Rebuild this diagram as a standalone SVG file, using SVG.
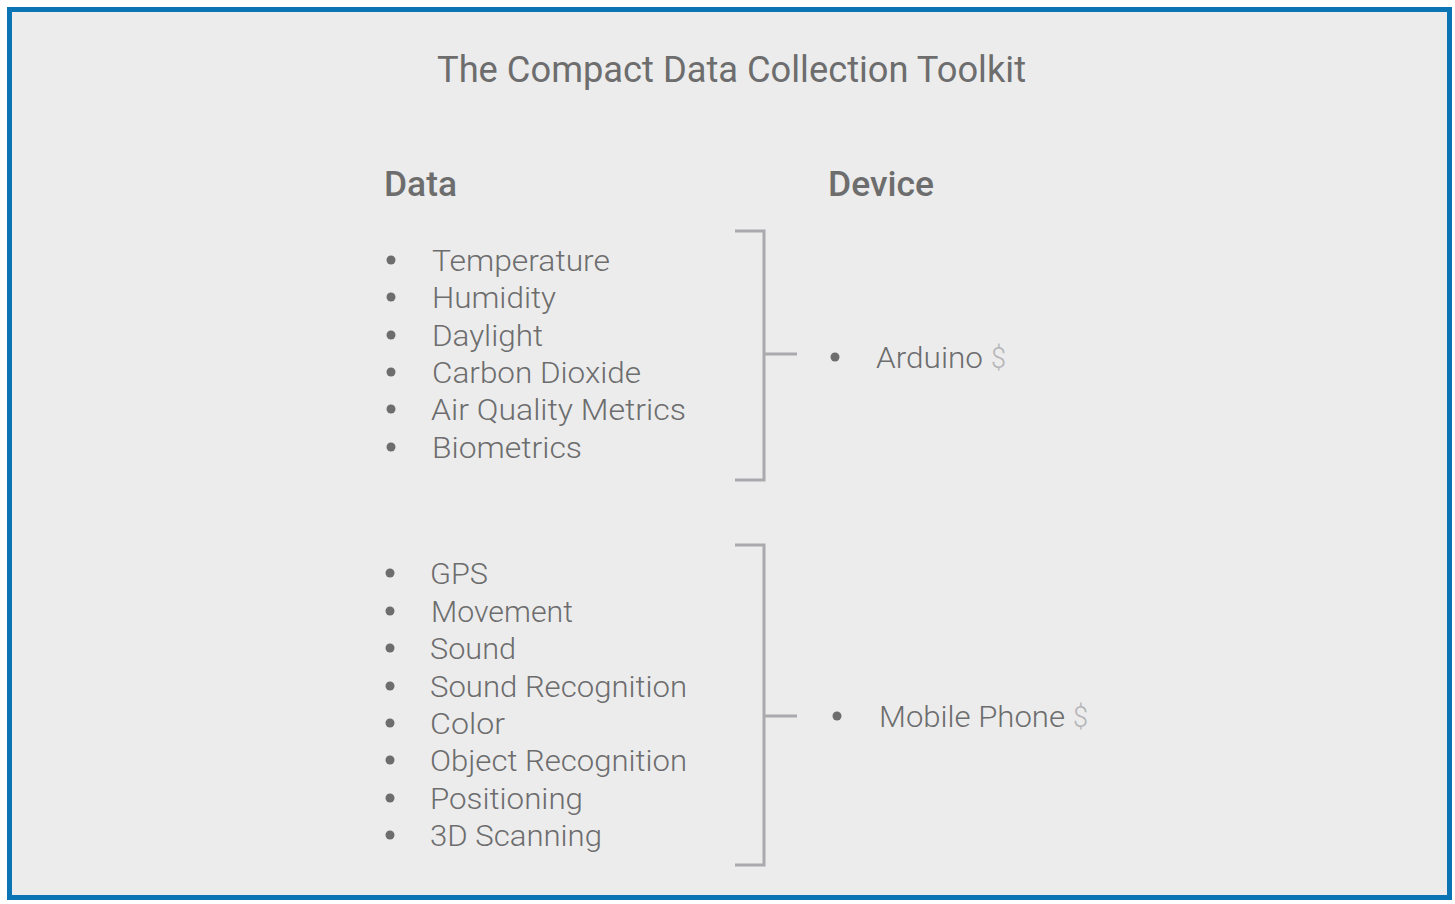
<svg xmlns="http://www.w3.org/2000/svg" width="1455" height="904" viewBox="0 0 1455 904">
<style>
text{font-family:Roboto,"Liberation Sans",sans-serif;fill:#6d6d6e}
.t{font-size:37px;font-weight:400}
.h{font-size:35px;font-weight:500}
.i{font-size:30px;font-weight:300}
.d{fill:#b4b4b6}
.b{fill:#6d6d6e}
.br{fill:none;stroke:#aaaaae;stroke-width:3}
</style>
<rect x="9.5" y="9.5" width="1440" height="888" fill="#ececec" stroke="#0a74b5" stroke-width="5"/>
<text class="t" x="437" y="82" textLength="589" lengthAdjust="spacingAndGlyphs">The Compact Data Collection Toolkit</text>
<g id="header-data"><text class="h" x="384" y="196" textLength="73" lengthAdjust="spacingAndGlyphs">Data</text></g>
<g id="header-device"><text class="h" x="828" y="196" textLength="106" lengthAdjust="spacingAndGlyphs">Device</text></g>
<g id="group1">
<circle class="b" cx="391" cy="260" r="4.5"/><text class="i" x="432" y="271" textLength="178" lengthAdjust="spacingAndGlyphs">Temperature</text>
<circle class="b" cx="391" cy="297" r="4.5"/><text class="i" x="432" y="308" textLength="124" lengthAdjust="spacingAndGlyphs">Humidity</text>
<circle class="b" cx="391" cy="335" r="4.5"/><text class="i" x="432" y="346" textLength="111" lengthAdjust="spacingAndGlyphs">Daylight</text>
<circle class="b" cx="391" cy="372" r="4.5"/><text class="i" x="432" y="383" textLength="209" lengthAdjust="spacingAndGlyphs">Carbon Dioxide</text>
<circle class="b" cx="391" cy="409" r="4.5"/><text class="i" x="431" y="420" textLength="255" lengthAdjust="spacingAndGlyphs">Air Quality Metrics</text>
<circle class="b" cx="391" cy="447" r="4.5"/><text class="i" x="432" y="458" textLength="150" lengthAdjust="spacingAndGlyphs">Biometrics</text>
</g>
<g id="group2">
<circle class="b" cx="390" cy="573" r="4.5"/><text class="i" x="430" y="584" textLength="58" lengthAdjust="spacingAndGlyphs">GPS</text>
<circle class="b" cx="390" cy="611" r="4.5"/><text class="i" x="431" y="622" textLength="142" lengthAdjust="spacingAndGlyphs">Movement</text>
<circle class="b" cx="390" cy="648" r="4.5"/><text class="i" x="430" y="659" textLength="86" lengthAdjust="spacingAndGlyphs">Sound</text>
<circle class="b" cx="390" cy="686" r="4.5"/><text class="i" x="430" y="697" textLength="257" lengthAdjust="spacingAndGlyphs">Sound Recognition</text>
<circle class="b" cx="390" cy="723" r="4.5"/><text class="i" x="430" y="734" textLength="75" lengthAdjust="spacingAndGlyphs">Color</text>
<circle class="b" cx="390" cy="760" r="4.5"/><text class="i" x="430" y="771" textLength="257" lengthAdjust="spacingAndGlyphs">Object Recognition</text>
<circle class="b" cx="390" cy="798" r="4.5"/><text class="i" x="430" y="809" textLength="153" lengthAdjust="spacingAndGlyphs">Positioning</text>
<circle class="b" cx="390" cy="835" r="4.5"/><text class="i" x="430" y="846" textLength="172" lengthAdjust="spacingAndGlyphs">3D Scanning</text>
</g>
<g id="arduino">
<circle class="b" cx="835" cy="357" r="4.5"/><text class="i" x="876" y="368" textLength="107" lengthAdjust="spacingAndGlyphs">Arduino</text><text class="i d" x="991" y="368" textLength="15" lengthAdjust="spacingAndGlyphs">$</text>
</g>
<g id="mobile">
<circle class="b" cx="837" cy="716" r="4.5"/><text class="i" x="879" y="727" textLength="186" lengthAdjust="spacingAndGlyphs">Mobile Phone</text><text class="i d" x="1073" y="727" textLength="15" lengthAdjust="spacingAndGlyphs">$</text>
</g>
<g id="connectors">
<path class="br" d="M735 231H764V480H735M764 354H797"/>
<path class="br" d="M735 545H764V865H735M764 716H797"/>
</g>
</svg>
